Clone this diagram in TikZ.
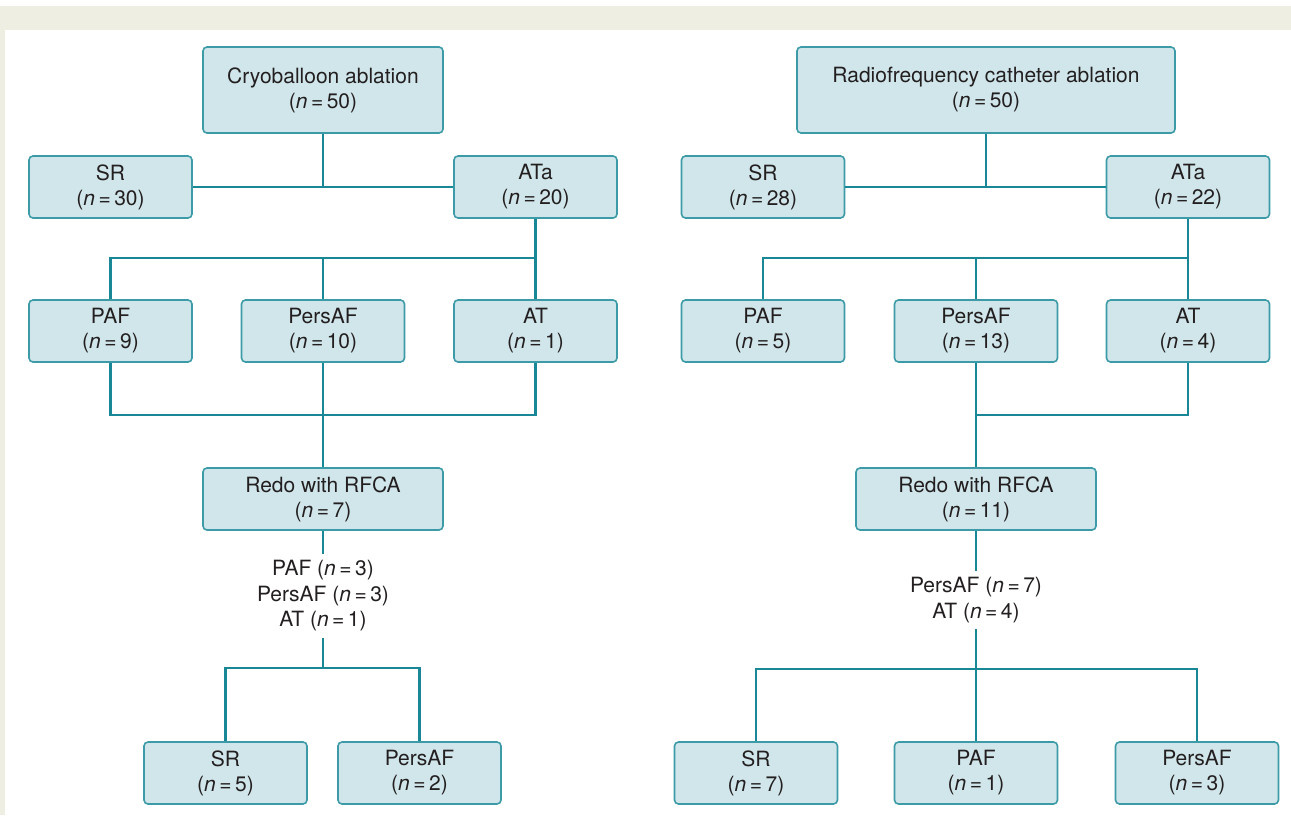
\documentclass[tikz,border=0pt]{standalone}
\usepackage{fontspec}
\setmainfont{TeX Gyre Heros}
\usepackage{xcolor}
\definecolor{bandcol}{RGB}{239,238,227}
\definecolor{boxfill}{RGB}{208,230,234}
\definecolor{boxline}{RGB}{60,155,166}
\definecolor{linkcol}{RGB}{26,135,150}
\definecolor{txtcol}{RGB}{35,31,32}
\newcommand{\nis}{\textit{n}\,=\,}

\begin{document}
\begin{tikzpicture}[x=1pt,y=-1pt,
    box/.style={draw=boxline,fill=boxfill,line width=1.6pt,rounded corners=4pt,minimum width=163pt,minimum height=62pt,inner sep=0pt,align=center,text=txtcol,font=\fontsize{21}{25}\selectfont},
    wide/.style={box,minimum width=240pt},
    note/.style={inner sep=6pt,align=center,text=txtcol,font=\fontsize{21}{25.5}\selectfont},
    link/.style={draw=linkcol,line width=2.2pt}]
    \fill[white] (0,0) rectangle (1291,815);
    \fill[bandcol] (0,6) rectangle (1291,815);
    \fill[white] (5,30) rectangle (1291,815);
    \useasboundingbox (0,0) rectangle (1291,815);
    \node[wide,minimum height=86pt] (cryo) at (323,90) {Cryoballoon ablation\\(\nis50)};
    \node[wide,minimum width=378pt,minimum height=86pt] (rfca) at (986,90) {Radiofrequency catheter ablation\\(\nis50)};
    \node[wide] (redoL) at (323,499) {Redo with RFCA\\(\nis7)};
    \node[wide] (redoR) at (976,499) {Redo with RFCA\\(\nis11)};
    \foreach \nm/\x/\y/\lab/\cnt in {srL/110.5/187/SR/30,ataL/535.5/187/ATa/20,pafL/110.5/331/PAF/9,persL/323/331/PersAF/10,atL/535.5/331/AT/1,srLb/225.5/773/SR/5,persLb/419.5/773/PersAF/2,
        srR/763/187/SR/28,ataR/1188/187/ATa/22,pafR/763/331/PAF/5,persR/976/331/PersAF/13,atR/1188/331/AT/4,srRb/756/773/SR/7,pafRb/976/773/PAF/1,persRb/1197/773/PersAF/3}{
    \node[box] (\nm) at (\x,\y) {\lab\\(\nis\cnt)};
    }
    \node[note] (txtL) at (323,596) {PAF (\nis3)\\PersAF (\nis3)\\AT (\nis1)};
    \node[note] (txtR) at (976,600) {PersAF (\nis7)\\AT (\nis4)};
    \coordinate (midL) at (323,187);
    \coordinate (splitL) at (323,258);
    \coordinate (joinL) at (323,415);
    \coordinate (forkL) at (323,668);
    \coordinate (midR) at (986,187);
    \coordinate (splitR) at (976,258);
    \coordinate (joinR) at (976,415);
    \coordinate (forkR) at (976,669);
    \draw[link] (cryo) -- (midL) (srL) -- (ataL) (ataL) -- (atL);
    \draw[link] (pafL) |- (splitL) -| (atL) (persL) -- (splitL);
    \draw[link] (pafL) |- (joinL) -| (atL) (persL) -- (redoL);
    \draw[link] (redoL) -- (txtL) (txtL) -- (forkL);
    \draw[link] (srLb) |- (forkL) -| (persLb);
    \draw[link] (rfca) -- (midR) (srR) -- (ataR) (ataR) -- (atR);
    \draw[link] (pafR) |- (splitR) -| (atR) (persR) -- (splitR);
    \draw[link] (atR) |- (joinR) (persR) -- (redoR);
    \draw[link] (redoR) -- (txtR) (txtR) -- (forkR);
    \draw[link] (srRb) |- (forkR) -| (persRb) (pafRb) -- (forkR);
\end{tikzpicture}
\end{document}
